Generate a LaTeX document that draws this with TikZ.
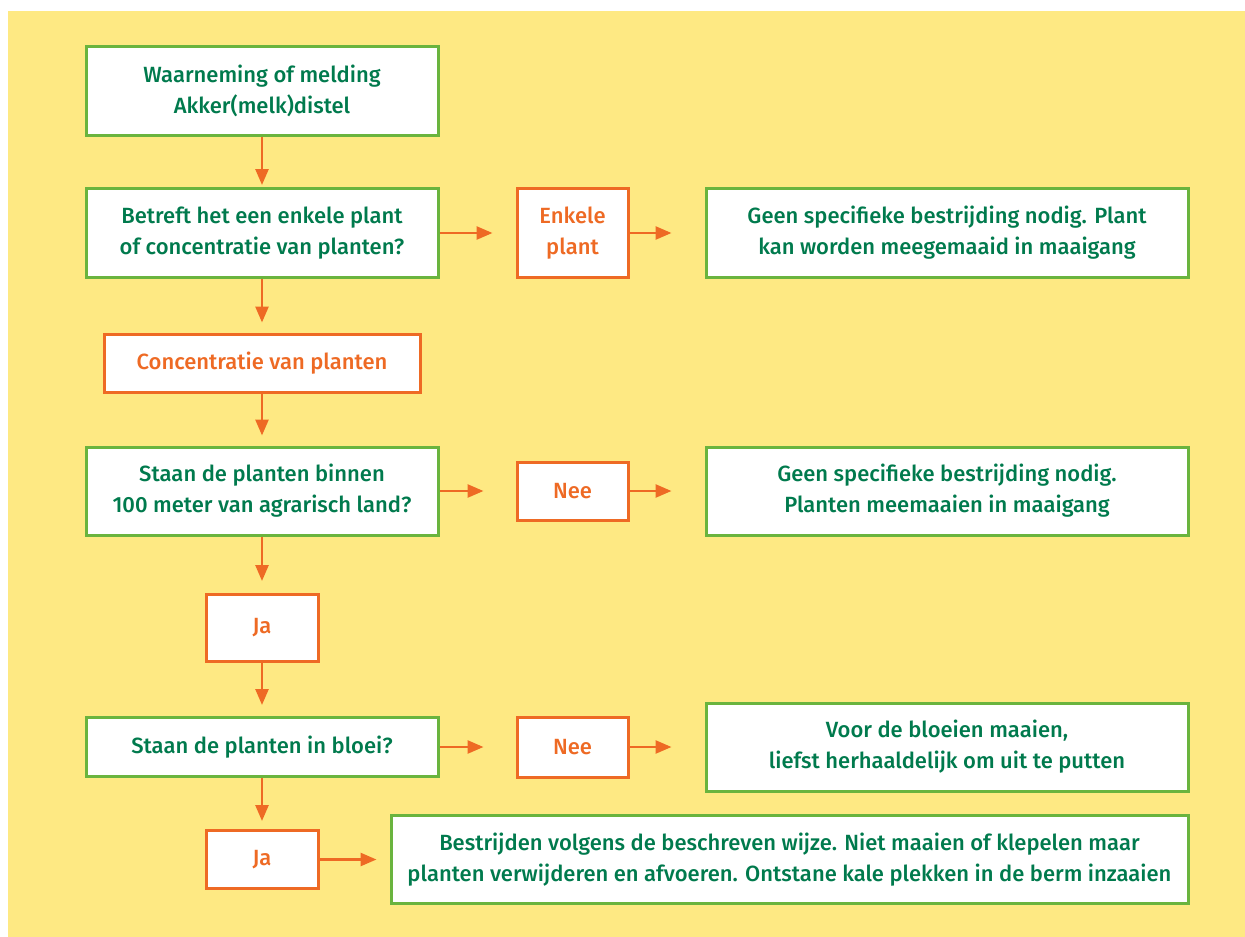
\documentclass[tikz,border=0pt]{standalone}
\usepackage{fontspec}
\setmainfont{PT Sans}
\newfontfamily\vakfont{Fira Sans Medium}
\usepackage{tikz}
\usetikzlibrary{arrows.meta, positioning}
\usepackage{xcolor}
\definecolor{geel}{HTML}{FEE983}
\definecolor{groen}{HTML}{6AB43E}
\definecolor{donkergroen}{HTML}{007A4D}
\definecolor{oranje}{HTML}{EE6A24}

\begin{document}
\begin{tikzpicture}[x=1pt, y=-1pt,
    vak/.style = {draw, fill=white, line width=3pt, align=center,
        inner sep=0pt, font=\vakfont\fontsize{22}{31}\selectfont},
    groenvak/.style = {vak, draw=groen, text=donkergroen},
    oranjevak/.style = {vak, draw=oranje, text=oranje},
    pijl/.style = {draw=oranje, line width=2.6pt, -{Triangle[length=16pt, width=13pt]}}]
    % Parametri
    \pgfmathsetmacro{\xl}{262}
    \pgfmathsetmacro{\xm}{572.5}
    \pgfmathsetmacro{\xr}{947}
    % Achtergrond
    \useasboundingbox (0,0) rectangle (1245,937);
    \fill[geel] (8,11) rectangle (1245,937);
    % Linker kolom
    \node[groenvak, minimum width=352, minimum height=89] (waarneming) at (\xl,90.5)
        {Waarneming of melding\\Akker(melk)distel};
    \node[groenvak, minimum width=352, minimum height=89] (vraagenkel) at (\xl,233)
        {Betreft het een enkele plant\\of concentratie van planten?};
    \node[oranjevak, minimum width=316, minimum height=58] (concentratie) at (\xl,363)
        {Concentratie van planten};
    \node[groenvak, minimum width=352, minimum height=88] (vraagafstand) at (\xl,491)
        {Staan de planten binnen\\100 meter van agrarisch land?};
    \node[oranjevak, minimum width=112, minimum height=67] (jaeen) at (\xl,628) {Ja};
    \node[groenvak, minimum width=352, minimum height=59] (vraagbloei) at (\xl,747)
        {Staan de planten in bloei?};
    \node[oranjevak, minimum width=112, minimum height=58] (jatwee) at (\xl,859.5) {Ja};
    % Middelste kolom
    \node[oranjevak, minimum width=111, minimum height=89] (enkele) at (\xm,233) {Enkele\\plant};
    \node[oranjevak, minimum width=111, minimum height=58] (neeeen) at (\xm,491) {Nee};
    \node[oranjevak, minimum width=111, minimum height=60] (neetwee) at (\xm,747) {Nee};
    % Rechter kolom
    \node[groenvak, minimum width=482, minimum height=89] (geeneen) at (\xr,233)
        {Geen specifieke bestrijding nodig. Plant\\kan worden meegemaaid in maaigang};
    \node[groenvak, minimum width=482, minimum height=88] (geentwee) at (\xr,491)
        {Geen specifieke bestrijding nodig.\\Planten meemaaien in maaigang};
    \node[groenvak, minimum width=482, minimum height=88] (bloeien) at (\xr,747)
        {Voor de bloeien maaien,\\liefst herhaaldelijk om uit te putten};
    \node[groenvak, minimum width=797, minimum height=88] (bestrijden) at (789.5,859.5)
        {Bestrijden volgens de beschreven wijze. Niet maaien of klepelen maar\\planten verwijderen en afvoeren. Ontstane kale plekken in de berm inzaaien};
    % Pijlen naar beneden
    \draw[pijl, shorten >=2pt] (waarneming) -- (vraagenkel);
    \draw[pijl, shorten >=10pt] (vraagenkel) -- (concentratie);
    \draw[pijl, shorten >=10pt] (concentratie) -- (vraagafstand);
    \draw[pijl, shorten >=12pt] (vraagafstand) -- (jaeen);
    \draw[pijl, shorten >=11pt] (jaeen) -- (vraagbloei);
    \draw[pijl, shorten >=8pt] (vraagbloei) -- (jatwee);
    % Pijlen naar rechts
    \draw[pijl, shorten >=23pt] (vraagenkel) -- (enkele);
    \draw[pijl, shorten >=33pt] (enkele) -- (geeneen);
    \draw[pijl, shorten >=32pt] (vraagafstand) -- (neeeen);
    \draw[pijl, shorten >=33pt] (neeeen) -- (geentwee);
    \draw[pijl, shorten >=32pt] (vraagbloei) -- (neetwee);
    \draw[pijl, shorten >=33pt] (neetwee) -- (bloeien);
    \draw[pijl, shorten >=13pt] (jatwee) -- (bestrijden);
\end{tikzpicture}
\end{document}
